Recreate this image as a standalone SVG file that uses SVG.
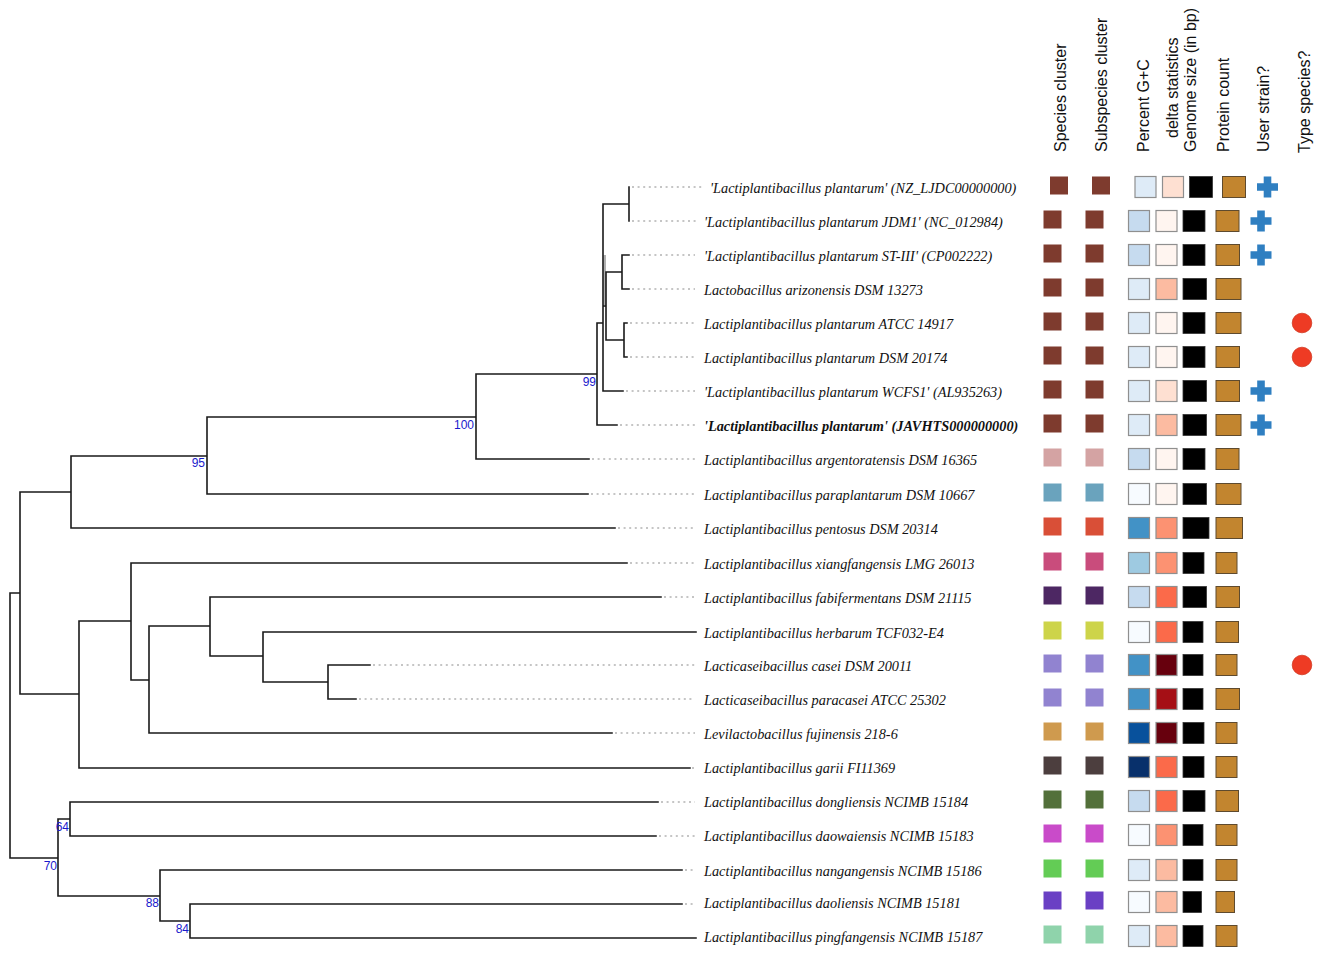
<svg xmlns="http://www.w3.org/2000/svg" xmlns:xlink="http://www.w3.org/1999/xlink" width="1325" height="957" viewBox="0 0 1325 957">
<style>
.br{fill:none;stroke:#1a1a1a;stroke-width:1.6;stroke-linecap:square}
.dt{fill:none;stroke:#8c8c8c;stroke-width:1.2;stroke-dasharray:2 3.6}
.lb{font-family:"Liberation Serif","Times New Roman",serif;font-style:italic;font-size:14.3px;fill:#111}
.bold{font-weight:bold}
.bs{font-family:"Liberation Sans",Arial,sans-serif;font-size:12px;fill:#1a1acc;text-anchor:end}
.hd{font-family:"Liberation Sans",Arial,sans-serif;font-size:16px;fill:#111}
.sp{stroke:none}
.gc{stroke:#8f8f8f;stroke-width:1.2}
.gs{fill:#000;stroke:#333;stroke-width:0.8}
.pr{fill:#c2852f;stroke:#5e4a2e;stroke-width:1}
.us{fill:#2f7fc1}
.ts{fill:#ee3b24;stroke:#d23a22;stroke-width:0.8}
</style>
<defs>
<path id="plus" d="M-3.8,-10.5 h7.6 v6.7 h6.7 v7.6 h-6.7 v6.7 h-7.6 v-6.7 h-6.7 v-7.6 h6.7 z"/>
</defs>

<g id="header">
<text class="hd" transform="translate(1066,152) rotate(-90)">Species cluster</text>
<text class="hd" transform="translate(1107,152) rotate(-90)">Subspecies cluster</text>
<text class="hd" transform="translate(1149,152) rotate(-90)">Percent G+C</text>
<text class="hd" transform="translate(1178,138) rotate(-90)">delta statistics</text>
<text class="hd" transform="translate(1196,152) rotate(-90)">Genome size (in bp)</text>
<text class="hd" transform="translate(1229,152) rotate(-90)">Protein count</text>
<text class="hd" transform="translate(1269,152) rotate(-90)">User strain?</text>
<text class="hd" transform="translate(1310,153) rotate(-90)">Type species?</text>
</g>

<g id="connectors">
<rect x="603.5" y="255" width="2.5" height="50" fill="#b0b0b0"/>
<path class="br" d="M10,593 V858 M10,593 H20 M10,858 H58
M20,492 V694 M20,492 H71 M20,694 H79
M71,456 V528 M71,456 H207 M71,528 H615
M207,417 V494 M207,417 H476 M207,494 H588
M476,374 V459 M476,374 H597 M476,459 H589
M597,323 V425 M597,323 H603 M597,425 H617
M603,204 V391 M603,204 H629 M603,306 H606 M603,391 H623
M629,187 V221
M606,272 V340 M606,272 H622 M606,340 H624
M622,255 V289 M622,255 H629 M622,289 H629
M624,323 V357 M624,323 H627 M624,357 H627
M79,621 V768 M79,621 H131 M79,768 H690
M131,563 V680 M131,563 H627 M131,680 H149
M149,626 V733 M149,626 H210 M149,733 H612
M210,597 V656 M210,597 H661 M210,656 H263
M263,632 V682 M263,632 H696 M263,682 H328
M328,665 V699 M328,665 H370 M328,699 H356
M58,819 V896 M58,819 H70 M58,896 H160
M70,802 V836 M70,802 H658 M70,836 H656
M160,870 V921 M160,870 H682 M160,921 H190
M190,904 V938 M190,904 H682 M190,938 H696"/>
<path class="dt" d="M632,187 H702 M632,221 H697 M632,255 H695 M632,289 H695 M630,323 H695 M630,357 H695 M626,391 H695 M620,425 H695
M592,459 H695 M591,494 H695 M618,528 H695 M630,563 H695 M664,597 H695 M373,665 H695 M359,699 H695 M615,733 H695 M692,768 H696 M661,802 H695 M659,836 H695 M685,870 H695 M685,904 H695"/>
<text class="bs" x="596" y="386">99</text>
<text class="bs" x="474" y="429">100</text>
<text class="bs" x="205" y="467">95</text>
<text class="bs" x="69" y="831">64</text>
<text class="bs" x="57" y="870">70</text>
<text class="bs" x="159" y="907">88</text>
<text class="bs" x="189" y="933">84</text>
</g>

<g id="leaf-1" transform="translate(0,187)">
<text class="lb" x="710" y="6">'Lactiplantibacillus plantarum' (NZ_LJDC00000000)</text>
<g transform="translate(6.5,0)">
<rect class="sp" x="1043.5" y="-10.5" width="18" height="18" fill="#7e3b2e"/>
<rect class="sp" x="1085.5" y="-10.5" width="18" height="18" fill="#7e3b2e"/>
<rect class="gc" x="1128.5" y="-10.5" width="21" height="21" fill="#deebf7"/>
<rect class="gc" x="1156" y="-10.5" width="21" height="21" fill="#fee0d2"/>
<rect class="gs" x="1183" y="-10.5" width="23" height="21"/>
<rect class="pr" x="1216" y="-10.5" width="23" height="21"/>
<use href="#plus" class="us" x="1261" y="0"/>
</g>
</g>

<g id="leaf-2" transform="translate(0,221)">
<text class="lb" x="704" y="6">'Lactiplantibacillus plantarum JDM1' (NC_012984)</text>
<rect class="sp" x="1043.5" y="-10.5" width="18" height="18" fill="#7e3b2e"/>
<rect class="sp" x="1085.5" y="-10.5" width="18" height="18" fill="#7e3b2e"/>
<rect class="gc" x="1128.5" y="-10.5" width="21" height="21" fill="#c6dbef"/>
<rect class="gc" x="1156" y="-10.5" width="21" height="21" fill="#fff5f0"/>
<rect class="gs" x="1183" y="-10.5" width="22" height="21"/>
<rect class="pr" x="1216" y="-10.5" width="23" height="21"/>
<use href="#plus" class="us" x="1261" y="0"/>
</g>

<g id="leaf-3" transform="translate(0,255)">
<text class="lb" x="704" y="6">'Lactiplantibacillus plantarum ST-III' (CP002222)</text>
<rect class="sp" x="1043.5" y="-10.5" width="18" height="18" fill="#7e3b2e"/>
<rect class="sp" x="1085.5" y="-10.5" width="18" height="18" fill="#7e3b2e"/>
<rect class="gc" x="1128.5" y="-10.5" width="21" height="21" fill="#c6dbef"/>
<rect class="gc" x="1156" y="-10.5" width="21" height="21" fill="#fff5f0"/>
<rect class="gs" x="1183" y="-10.5" width="22" height="21"/>
<rect class="pr" x="1216" y="-10.5" width="23.5" height="21"/>
<use href="#plus" class="us" x="1261" y="0"/>
</g>

<g id="leaf-4" transform="translate(0,289)">
<text class="lb" x="704" y="6">Lactobacillus arizonensis DSM 13273</text>
<rect class="sp" x="1043.5" y="-10.5" width="18" height="18" fill="#7e3b2e"/>
<rect class="sp" x="1085.5" y="-10.5" width="18" height="18" fill="#7e3b2e"/>
<rect class="gc" x="1128.5" y="-10.5" width="21" height="21" fill="#deebf7"/>
<rect class="gc" x="1156" y="-10.5" width="21" height="21" fill="#fcbba1"/>
<rect class="gs" x="1183" y="-10.5" width="23.5" height="21"/>
<rect class="pr" x="1216" y="-10.5" width="25" height="21"/>
</g>

<g id="leaf-5" transform="translate(0,323)">
<text class="lb" x="704" y="6">Lactiplantibacillus plantarum ATCC 14917</text>
<rect class="sp" x="1043.5" y="-10.5" width="18" height="18" fill="#7e3b2e"/>
<rect class="sp" x="1085.5" y="-10.5" width="18" height="18" fill="#7e3b2e"/>
<rect class="gc" x="1128.5" y="-10.5" width="21" height="21" fill="#deebf7"/>
<rect class="gc" x="1156" y="-10.5" width="21" height="21" fill="#fff5f0"/>
<rect class="gs" x="1183" y="-10.5" width="22" height="21"/>
<rect class="pr" x="1216" y="-10.5" width="25" height="21"/>
<circle class="ts" cx="1302" cy="0" r="9.8"/>
</g>

<g id="leaf-6" transform="translate(0,357)">
<text class="lb" x="704" y="6">Lactiplantibacillus plantarum DSM 20174</text>
<rect class="sp" x="1043.5" y="-10.5" width="18" height="18" fill="#7e3b2e"/>
<rect class="sp" x="1085.5" y="-10.5" width="18" height="18" fill="#7e3b2e"/>
<rect class="gc" x="1128.5" y="-10.5" width="21" height="21" fill="#deebf7"/>
<rect class="gc" x="1156" y="-10.5" width="21" height="21" fill="#fff5f0"/>
<rect class="gs" x="1183" y="-10.5" width="22" height="21"/>
<rect class="pr" x="1216" y="-10.5" width="23.5" height="21"/>
<circle class="ts" cx="1302" cy="0" r="9.8"/>
</g>

<g id="leaf-7" transform="translate(0,391)">
<text class="lb" x="704" y="6">'Lactiplantibacillus plantarum WCFS1' (AL935263)</text>
<rect class="sp" x="1043.5" y="-10.5" width="18" height="18" fill="#7e3b2e"/>
<rect class="sp" x="1085.5" y="-10.5" width="18" height="18" fill="#7e3b2e"/>
<rect class="gc" x="1128.5" y="-10.5" width="21" height="21" fill="#deebf7"/>
<rect class="gc" x="1156" y="-10.5" width="21" height="21" fill="#fee0d2"/>
<rect class="gs" x="1183" y="-10.5" width="23.5" height="21"/>
<rect class="pr" x="1216" y="-10.5" width="23.5" height="21"/>
<use href="#plus" class="us" x="1261" y="0"/>
</g>

<g id="leaf-8" transform="translate(0,425)">
<text class="lb bold" x="704" y="6">'Lactiplantibacillus plantarum' (JAVHTS000000000)</text>
<rect class="sp" x="1043.5" y="-10.5" width="18" height="18" fill="#7e3b2e"/>
<rect class="sp" x="1085.5" y="-10.5" width="18" height="18" fill="#7e3b2e"/>
<rect class="gc" x="1128.5" y="-10.5" width="21" height="21" fill="#deebf7"/>
<rect class="gc" x="1156" y="-10.5" width="21" height="21" fill="#fcbba1"/>
<rect class="gs" x="1183" y="-10.5" width="23.5" height="21"/>
<rect class="pr" x="1216" y="-10.5" width="25" height="21"/>
<use href="#plus" class="us" x="1261" y="0"/>
</g>

<g id="leaf-9" transform="translate(0,459)">
<text class="lb" x="704" y="6">Lactiplantibacillus argentoratensis DSM 16365</text>
<rect class="sp" x="1043.5" y="-10.5" width="18" height="18" fill="#d4a3a3"/>
<rect class="sp" x="1085.5" y="-10.5" width="18" height="18" fill="#d4a3a3"/>
<rect class="gc" x="1128.5" y="-10.5" width="21" height="21" fill="#c6dbef"/>
<rect class="gc" x="1156" y="-10.5" width="21" height="21" fill="#fff5f0"/>
<rect class="gs" x="1183" y="-10.5" width="22" height="21"/>
<rect class="pr" x="1216" y="-10.5" width="23" height="21"/>
</g>

<g id="leaf-10" transform="translate(0,494)">
<text class="lb" x="704" y="6">Lactiplantibacillus paraplantarum DSM 10667</text>
<rect class="sp" x="1043.5" y="-10.5" width="18" height="18" fill="#6aa3bd"/>
<rect class="sp" x="1085.5" y="-10.5" width="18" height="18" fill="#6aa3bd"/>
<rect class="gc" x="1128.5" y="-10.5" width="21" height="21" fill="#f7fbff"/>
<rect class="gc" x="1156" y="-10.5" width="21" height="21" fill="#fff5f0"/>
<rect class="gs" x="1183" y="-10.5" width="23.5" height="21"/>
<rect class="pr" x="1216" y="-10.5" width="25" height="21"/>
</g>

<g id="leaf-11" transform="translate(0,528)">
<text class="lb" x="704" y="6">Lactiplantibacillus pentosus DSM 20314</text>
<rect class="sp" x="1043.5" y="-10.5" width="18" height="18" fill="#d94f37"/>
<rect class="sp" x="1085.5" y="-10.5" width="18" height="18" fill="#d94f37"/>
<rect class="gc" x="1128.5" y="-10.5" width="21" height="21" fill="#4292c6"/>
<rect class="gc" x="1156" y="-10.5" width="21" height="21" fill="#fc9272"/>
<rect class="gs" x="1183" y="-10.5" width="26" height="21"/>
<rect class="pr" x="1216" y="-10.5" width="26.5" height="21"/>
</g>

<g id="leaf-12" transform="translate(0,563)">
<text class="lb" x="704" y="6">Lactiplantibacillus xiangfangensis LMG 26013</text>
<rect class="sp" x="1043.5" y="-10.5" width="18" height="18" fill="#c94c7c"/>
<rect class="sp" x="1085.5" y="-10.5" width="18" height="18" fill="#c94c7c"/>
<rect class="gc" x="1128.5" y="-10.5" width="21" height="21" fill="#9ecae1"/>
<rect class="gc" x="1156" y="-10.5" width="21" height="21" fill="#fc9272"/>
<rect class="gs" x="1183" y="-10.5" width="21" height="21"/>
<rect class="pr" x="1216" y="-10.5" width="21" height="21"/>
</g>

<g id="leaf-13" transform="translate(0,597)">
<text class="lb" x="704" y="6">Lactiplantibacillus fabifermentans DSM 21115</text>
<rect class="sp" x="1043.5" y="-10.5" width="18" height="18" fill="#4d2763"/>
<rect class="sp" x="1085.5" y="-10.5" width="18" height="18" fill="#4d2763"/>
<rect class="gc" x="1128.5" y="-10.5" width="21" height="21" fill="#c6dbef"/>
<rect class="gc" x="1156" y="-10.5" width="21" height="21" fill="#fb6a4a"/>
<rect class="gs" x="1183" y="-10.5" width="23.5" height="21"/>
<rect class="pr" x="1216" y="-10.5" width="23.5" height="21"/>
</g>

<g id="leaf-14" transform="translate(0,632)">
<text class="lb" x="704" y="6">Lactiplantibacillus herbarum TCF032-E4</text>
<rect class="sp" x="1043.5" y="-10.5" width="18" height="18" fill="#cdd44a"/>
<rect class="sp" x="1085.5" y="-10.5" width="18" height="18" fill="#cdd44a"/>
<rect class="gc" x="1128.5" y="-10.5" width="21" height="21" fill="#f7fbff"/>
<rect class="gc" x="1156" y="-10.5" width="21" height="21" fill="#fb6a4a"/>
<rect class="gs" x="1183" y="-10.5" width="20" height="21"/>
<rect class="pr" x="1216" y="-10.5" width="22.5" height="21"/>
</g>

<g id="leaf-15" transform="translate(0,665)">
<text class="lb" x="704" y="6">Lacticaseibacillus casei DSM 20011</text>
<rect class="sp" x="1043.5" y="-10.5" width="18" height="18" fill="#9183d0"/>
<rect class="sp" x="1085.5" y="-10.5" width="18" height="18" fill="#9183d0"/>
<rect class="gc" x="1128.5" y="-10.5" width="21" height="21" fill="#4292c6"/>
<rect class="gc" x="1156" y="-10.5" width="21" height="21" fill="#67000d"/>
<rect class="gs" x="1183" y="-10.5" width="20" height="21"/>
<rect class="pr" x="1216" y="-10.5" width="21" height="21"/>
<circle class="ts" cx="1302" cy="0" r="9.8"/>
</g>

<g id="leaf-16" transform="translate(0,699)">
<text class="lb" x="704" y="6">Lacticaseibacillus paracasei ATCC 25302</text>
<rect class="sp" x="1043.5" y="-10.5" width="18" height="18" fill="#9183d0"/>
<rect class="sp" x="1085.5" y="-10.5" width="18" height="18" fill="#9183d0"/>
<rect class="gc" x="1128.5" y="-10.5" width="21" height="21" fill="#4292c6"/>
<rect class="gc" x="1156" y="-10.5" width="21" height="21" fill="#a50f15"/>
<rect class="gs" x="1183" y="-10.5" width="20" height="21"/>
<rect class="pr" x="1216" y="-10.5" width="23.5" height="21"/>
</g>

<g id="leaf-17" transform="translate(0,733)">
<text class="lb" x="704" y="6">Levilactobacillus fujinensis 218-6</text>
<rect class="sp" x="1043.5" y="-10.5" width="18" height="18" fill="#cf9a4e"/>
<rect class="sp" x="1085.5" y="-10.5" width="18" height="18" fill="#cf9a4e"/>
<rect class="gc" x="1128.5" y="-10.5" width="21" height="21" fill="#08519c"/>
<rect class="gc" x="1156" y="-10.5" width="21" height="21" fill="#67000d"/>
<rect class="gs" x="1183" y="-10.5" width="21" height="21"/>
<rect class="pr" x="1216" y="-10.5" width="21" height="21"/>
</g>

<g id="leaf-18" transform="translate(0,767)">
<text class="lb" x="704" y="6">Lactiplantibacillus garii FI11369</text>
<rect class="sp" x="1043.5" y="-10.5" width="18" height="18" fill="#4c3e3e"/>
<rect class="sp" x="1085.5" y="-10.5" width="18" height="18" fill="#4c3e3e"/>
<rect class="gc" x="1128.5" y="-10.5" width="21" height="21" fill="#08306b"/>
<rect class="gc" x="1156" y="-10.5" width="21" height="21" fill="#fb6a4a"/>
<rect class="gs" x="1183" y="-10.5" width="21" height="21"/>
<rect class="pr" x="1216" y="-10.5" width="21" height="21"/>
</g>

<g id="leaf-19" transform="translate(0,801)">
<text class="lb" x="704" y="6">Lactiplantibacillus dongliensis NCIMB 15184</text>
<rect class="sp" x="1043.5" y="-10.5" width="18" height="18" fill="#53703a"/>
<rect class="sp" x="1085.5" y="-10.5" width="18" height="18" fill="#53703a"/>
<rect class="gc" x="1128.5" y="-10.5" width="21" height="21" fill="#c6dbef"/>
<rect class="gc" x="1156" y="-10.5" width="21" height="21" fill="#fb6a4a"/>
<rect class="gs" x="1183" y="-10.5" width="22" height="21"/>
<rect class="pr" x="1216" y="-10.5" width="22.5" height="21"/>
</g>

<g id="leaf-20" transform="translate(0,835)">
<text class="lb" x="704" y="6">Lactiplantibacillus daowaiensis NCIMB 15183</text>
<rect class="sp" x="1043.5" y="-10.5" width="18" height="18" fill="#c94bc9"/>
<rect class="sp" x="1085.5" y="-10.5" width="18" height="18" fill="#c94bc9"/>
<rect class="gc" x="1128.5" y="-10.5" width="21" height="21" fill="#f7fbff"/>
<rect class="gc" x="1156" y="-10.5" width="21" height="21" fill="#fc9272"/>
<rect class="gs" x="1183" y="-10.5" width="20" height="21"/>
<rect class="pr" x="1216" y="-10.5" width="21" height="21"/>
</g>

<g id="leaf-21" transform="translate(0,870)">
<text class="lb" x="704" y="6">Lactiplantibacillus nangangensis NCIMB 15186</text>
<rect class="sp" x="1043.5" y="-10.5" width="18" height="18" fill="#63cc55"/>
<rect class="sp" x="1085.5" y="-10.5" width="18" height="18" fill="#63cc55"/>
<rect class="gc" x="1128.5" y="-10.5" width="21" height="21" fill="#deebf7"/>
<rect class="gc" x="1156" y="-10.5" width="21" height="21" fill="#fcbba1"/>
<rect class="gs" x="1183" y="-10.5" width="20" height="21"/>
<rect class="pr" x="1216" y="-10.5" width="21" height="21"/>
</g>

<g id="leaf-22" transform="translate(0,902)">
<text class="lb" x="704" y="6">Lactiplantibacillus daoliensis NCIMB 15181</text>
<rect class="sp" x="1043.5" y="-10.5" width="18" height="18" fill="#6a40c4"/>
<rect class="sp" x="1085.5" y="-10.5" width="18" height="18" fill="#6a40c4"/>
<rect class="gc" x="1128.5" y="-10.5" width="21" height="21" fill="#f7fbff"/>
<rect class="gc" x="1156" y="-10.5" width="21" height="21" fill="#fcbba1"/>
<rect class="gs" x="1183" y="-10.5" width="18.5" height="21"/>
<rect class="pr" x="1216" y="-10.5" width="18.5" height="21"/>
</g>

<g id="leaf-23" transform="translate(0,936)">
<text class="lb" x="704" y="6">Lactiplantibacillus pingfangensis NCIMB 15187</text>
<rect class="sp" x="1043.5" y="-10.5" width="18" height="18" fill="#8fd3ab"/>
<rect class="sp" x="1085.5" y="-10.5" width="18" height="18" fill="#8fd3ab"/>
<rect class="gc" x="1128.5" y="-10.5" width="21" height="21" fill="#deebf7"/>
<rect class="gc" x="1156" y="-10.5" width="21" height="21" fill="#fcbba1"/>
<rect class="gs" x="1183" y="-10.5" width="20" height="21"/>
<rect class="pr" x="1216" y="-10.5" width="21" height="21"/>
</g>
</svg>
